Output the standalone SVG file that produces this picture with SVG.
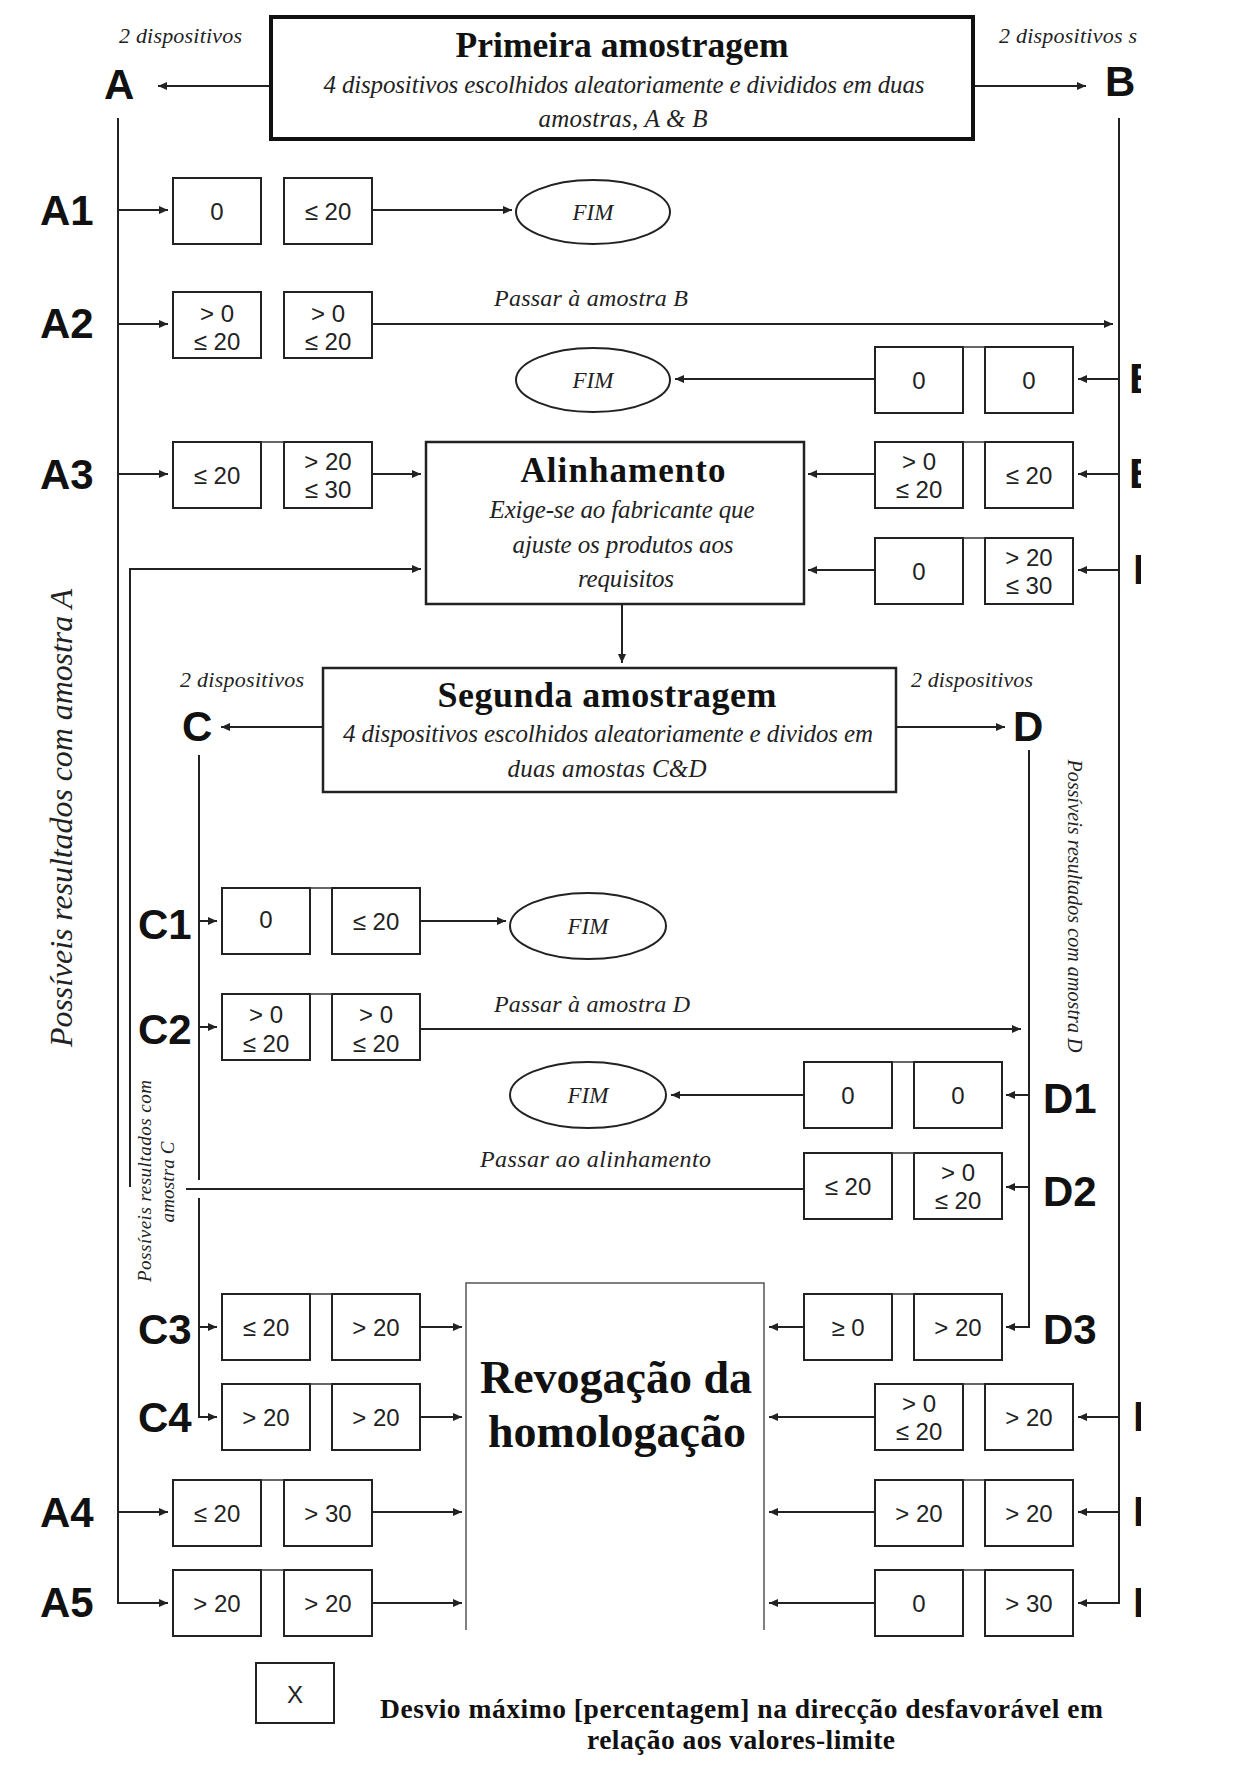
<svg xmlns="http://www.w3.org/2000/svg" width="1249" height="1776" viewBox="0 0 1249 1776">
<style>
.bx{fill:#fff;stroke:#222;stroke-width:2}
.br{fill:none;stroke:#333;stroke-width:1.5}
.bt{font-family:"Liberation Sans",Arial,sans-serif;font-size:24px;fill:#222;text-anchor:middle}
.lb{font-family:"Liberation Sans",Arial,sans-serif;font-weight:bold;font-size:42px;fill:#111}
.it{font-family:"Liberation Serif","Times New Roman",serif;font-style:italic;fill:#222}
.ttl{font-family:"Liberation Serif","Times New Roman",serif;font-weight:bold;fill:#111;text-anchor:middle}
.c{fill:none;stroke:#222;stroke-width:2}
.ca{fill:none;stroke:#222;stroke-width:2;marker-end:url(#ah)}
.el{fill:#fff;stroke:#222;stroke-width:2}
.mid{text-anchor:middle}
</style>
<defs>
<marker id="ah" markerUnits="userSpaceOnUse" markerWidth="10" markerHeight="8" refX="9" refY="4" orient="auto">
<path d="M0,0 L9,4 L0,8 Z" fill="#222"/>
</marker>
<clipPath id="clipR"><rect x="0" y="0" width="1141" height="1776"/></clipPath>
</defs>
<rect width="1249" height="1776" fill="#fff"/>

<g id="connectors">
<path class="ca" d="M269,86 H158"/>
<path class="ca" d="M975,86 H1086"/>
<path class="ca" d="M118,118 V1603 H168"/>
<path class="ca" d="M118,210 H168"/>
<path class="ca" d="M118,324 H168"/>
<path class="ca" d="M118,474 H168"/>
<path class="ca" d="M118,1512 H168"/>
<path class="ca" d="M373,210 H512"/>
<path class="ca" d="M373,324 H1113"/>
<path class="ca" d="M1119,118 V1603 H1078"/>
<path class="ca" d="M1119,379 H1078"/>
<path class="ca" d="M1119,474 H1078"/>
<path class="ca" d="M1119,570 H1078"/>
<path class="ca" d="M1119,1417 H1078"/>
<path class="ca" d="M1119,1512 H1078"/>
<path class="ca" d="M874,379 H675"/>
<path class="ca" d="M874,474 H808"/>
<path class="ca" d="M874,570 H808"/>
<path class="ca" d="M373,474 H421"/>
<path class="ca" d="M130,1187 V569 H421"/>
<path class="ca" d="M622,604 V663"/>
<path class="ca" d="M322,727 H221"/>
<path class="ca" d="M897,727 H1005"/>
<path class="c" d="M199,755 V1180"/>
<path class="ca" d="M199,1198 V1417 H217"/>
<path class="ca" d="M199,921 H217"/>
<path class="ca" d="M199,1027 H217"/>
<path class="ca" d="M199,1327 H217"/>
<path class="ca" d="M421,921 H506"/>
<path class="ca" d="M421,1029 H1021"/>
<path class="ca" d="M1029,750 V1327 H1006"/>
<path class="ca" d="M1029,1095 H1006"/>
<path class="ca" d="M1029,1187 H1006"/>
<path class="ca" d="M803,1095 H671"/>
<path class="c" d="M803,1189 H186"/>
<path class="ca" d="M421,1327 H462"/>
<path class="ca" d="M421,1417 H462"/>
<path class="ca" d="M373,1512 H462"/>
<path class="ca" d="M373,1603 H462"/>
<path class="ca" d="M803,1327 H769"/>
<path class="ca" d="M874,1417 H769"/>
<path class="ca" d="M874,1512 H769"/>
<path class="ca" d="M874,1603 H769"/>
<text class="it" x="494" y="306" font-size="24" textLength="194">Passar à amostra B</text>
<text class="it" x="494" y="1012" font-size="24" textLength="196">Passar à amostra D</text>
<text class="it" x="480" y="1167" font-size="24" textLength="231">Passar ao alinhamento</text>
</g>

<g id="primeira">
<rect x="271" y="17" width="702" height="122" fill="#fff" stroke="#111" stroke-width="4"/>
<text class="ttl" x="622" y="57" font-size="35.5" textLength="333">Primeira amostragem</text>
<text class="it mid" x="624" y="93" font-size="25" textLength="601">4 dispositivos escolhidos aleatoriamente e divididos em duas</text>
<text class="it mid" x="623" y="127" font-size="25" textLength="169">amostras, A &amp; B</text>
</g>

<g id="labelA">
<text class="it" x="119" y="43" font-size="22" textLength="123">2 dispositivos</text>
<text class="lb" x="104" y="99" font-size="50">A</text>
</g>
<g id="labelB" clip-path="url(#clipR)">
<text class="it" x="999" y="43" font-size="22" textLength="138">2 dispositivos s</text>
<text class="lb" x="1105" y="96" font-size="50">B</text>
</g>

<g id="rowlabels">
<text class="lb" x="40" y="225">A1</text>
<text class="lb" x="40" y="338">A2</text>
<text class="lb" x="40" y="489">A3</text>
<text class="lb" x="40" y="1527">A4</text>
<text class="lb" x="40" y="1617">A5</text>
<text class="lb" x="138" y="939" font-size="40">C1</text>
<text class="lb" x="138" y="1044" font-size="40">C2</text>
<text class="lb" x="138" y="1344" font-size="40">C3</text>
<text class="lb" x="138" y="1432" font-size="40">C4</text>
<text class="lb" x="1043" y="1113" font-size="40">D1</text>
<text class="lb" x="1043" y="1206" font-size="40">D2</text>
<text class="lb" x="1043" y="1344" font-size="40">D3</text>
<g clip-path="url(#clipR)">
<text class="lb" x="1129" y="393">B1</text>
<text class="lb" x="1129" y="488">B2</text>
<text class="lb" x="1133" y="584">B3</text>
<text class="lb" x="1133" y="1431">B4</text>
<text class="lb" x="1133" y="1526">B5</text>
<text class="lb" x="1133" y="1617">B6</text>
</g>
</g>

<g id="sideTexts">
<text class="it mid" transform="translate(72,818) rotate(-90)" font-size="32" textLength="458">Possíveis resultados com amostra A</text>
<text class="it mid" transform="translate(151,1181) rotate(-90)" font-size="19" textLength="202">Possíveis resultados com</text>
<text class="it mid" transform="translate(174,1182) rotate(-90)" font-size="19" textLength="81">amostra C</text>
<text class="it mid" transform="translate(1068,906) rotate(90)" font-size="20" textLength="293">Possíveis resultados com amostra D</text>
</g>

<g id="A1">
<rect class="bx" x="173" y="178" width="88" height="66"/><rect class="bx" x="284" y="178" width="88" height="66"/>
<text class="bt" x="217" y="220">0</text><text class="bt" x="328" y="220">≤ 20</text>
</g>
<g id="A2">
<rect class="bx" x="173" y="292" width="88" height="66"/><rect class="bx" x="284" y="292" width="88" height="66"/>
<text class="bt" x="217" y="322">&gt; 0</text><text class="bt" x="217" y="350">≤ 20</text>
<text class="bt" x="328" y="322">&gt; 0</text><text class="bt" x="328" y="350">≤ 20</text>
</g>
<g id="A3">
<rect class="bx" x="173" y="442" width="88" height="66"/><rect class="bx" x="284" y="442" width="88" height="66"/>
<path class="br" d="M261,442 H284"/>
<text class="bt" x="217" y="484">≤ 20</text>
<text class="bt" x="328" y="470">&gt; 20</text><text class="bt" x="328" y="498">≤ 30</text>
</g>
<g id="A4">
<rect class="bx" x="173" y="1480" width="88" height="66"/><rect class="bx" x="284" y="1480" width="88" height="66"/>
<path class="br" d="M261,1480 H284"/>
<text class="bt" x="217" y="1522">≤ 20</text><text class="bt" x="328" y="1522">&gt; 30</text>
</g>
<g id="A5">
<rect class="bx" x="173" y="1570" width="88" height="66"/><rect class="bx" x="284" y="1570" width="88" height="66"/>
<path class="br" d="M261,1570 H284"/>
<text class="bt" x="217" y="1612">&gt; 20</text><text class="bt" x="328" y="1612">&gt; 20</text>
</g>

<g id="B1">
<rect class="bx" x="875" y="347" width="88" height="66"/><rect class="bx" x="985" y="347" width="88" height="66"/>
<path class="br" d="M963,347 H985"/>
<text class="bt" x="919" y="389">0</text><text class="bt" x="1029" y="389">0</text>
</g>
<g id="B2">
<rect class="bx" x="875" y="442" width="88" height="66"/><rect class="bx" x="985" y="442" width="88" height="66"/>
<path class="br" d="M963,442 H985"/>
<text class="bt" x="919" y="470">&gt; 0</text><text class="bt" x="919" y="498">≤ 20</text>
<text class="bt" x="1029" y="484">≤ 20</text>
</g>
<g id="B3">
<rect class="bx" x="875" y="538" width="88" height="66"/><rect class="bx" x="985" y="538" width="88" height="66"/>
<path class="br" d="M963,538 H985"/>
<text class="bt" x="919" y="580">0</text>
<text class="bt" x="1029" y="566">&gt; 20</text><text class="bt" x="1029" y="594">≤ 30</text>
</g>
<g id="B4">
<rect class="bx" x="875" y="1384" width="88" height="66"/><rect class="bx" x="985" y="1384" width="88" height="66"/>
<path class="br" d="M963,1384 H985"/>
<text class="bt" x="919" y="1412">&gt; 0</text><text class="bt" x="919" y="1440">≤ 20</text>
<text class="bt" x="1029" y="1426">&gt; 20</text>
</g>
<g id="B5">
<rect class="bx" x="875" y="1480" width="88" height="66"/><rect class="bx" x="985" y="1480" width="88" height="66"/>
<path class="br" d="M963,1480 H985"/>
<text class="bt" x="919" y="1522">&gt; 20</text><text class="bt" x="1029" y="1522">&gt; 20</text>
</g>
<g id="B6">
<rect class="bx" x="875" y="1570" width="88" height="66"/><rect class="bx" x="985" y="1570" width="88" height="66"/>
<path class="br" d="M963,1570 H985"/>
<text class="bt" x="919" y="1612">0</text><text class="bt" x="1029" y="1612">&gt; 30</text>
</g>

<g id="C1">
<rect class="bx" x="222" y="888" width="88" height="66"/><rect class="bx" x="332" y="888" width="88" height="66"/>
<path class="br" d="M310,888 H332"/>
<text class="bt" x="266" y="928">0</text><text class="bt" x="376" y="930">≤ 20</text>
</g>
<g id="C2">
<rect class="bx" x="222" y="994" width="88" height="66"/><rect class="bx" x="332" y="994" width="88" height="66"/>
<path class="br" d="M310,994 H332" stroke="#999"/>
<text class="bt" x="266" y="1023">&gt; 0</text><text class="bt" x="266" y="1052">≤ 20</text>
<text class="bt" x="376" y="1023">&gt; 0</text><text class="bt" x="376" y="1052">≤ 20</text>
</g>
<g id="C3">
<rect class="bx" x="222" y="1294" width="88" height="66"/><rect class="bx" x="332" y="1294" width="88" height="66"/>
<path class="br" d="M310,1294 H332"/>
<text class="bt" x="266" y="1336">≤ 20</text><text class="bt" x="376" y="1336">&gt; 20</text>
</g>
<g id="C4">
<rect class="bx" x="222" y="1384" width="88" height="66"/><rect class="bx" x="332" y="1384" width="88" height="66"/>
<path class="br" d="M310,1384 H332"/>
<text class="bt" x="266" y="1426">&gt; 20</text><text class="bt" x="376" y="1426">&gt; 20</text>
</g>

<g id="D1">
<rect class="bx" x="804" y="1062" width="88" height="66"/><rect class="bx" x="914" y="1062" width="88" height="66"/>
<path class="br" d="M892,1062 H914"/>
<text class="bt" x="848" y="1104">0</text><text class="bt" x="958" y="1104">0</text>
</g>
<g id="D2">
<rect class="bx" x="804" y="1153" width="88" height="66"/><rect class="bx" x="914" y="1153" width="88" height="66"/>
<path class="br" d="M892,1153 H914"/>
<text class="bt" x="848" y="1195">≤ 20</text>
<text class="bt" x="958" y="1181">&gt; 0</text><text class="bt" x="958" y="1209">≤ 20</text>
</g>
<g id="D3">
<rect class="bx" x="804" y="1294" width="88" height="66"/><rect class="bx" x="914" y="1294" width="88" height="66"/>
<path class="br" d="M892,1294 H914"/>
<text class="bt" x="848" y="1336">≥ 0</text><text class="bt" x="958" y="1336">&gt; 20</text>
</g>

<g id="fimA1"><ellipse class="el" cx="593" cy="212" rx="77" ry="32"/><text class="it mid" x="593" y="220" font-size="23">FIM</text></g>
<g id="fimB1"><ellipse class="el" cx="593" cy="380" rx="77" ry="32"/><text class="it mid" x="593" y="388" font-size="23">FIM</text></g>
<g id="fimC1"><ellipse class="el" cx="588" cy="926" rx="78" ry="33"/><text class="it mid" x="588" y="934" font-size="23">FIM</text></g>
<g id="fimD1"><ellipse class="el" cx="588" cy="1095" rx="78" ry="33"/><text class="it mid" x="588" y="1103" font-size="23">FIM</text></g>

<g id="alinhamento">
<rect x="426" y="442" width="378" height="162" fill="#fff" stroke="#222" stroke-width="2.5"/>
<text class="ttl" x="623" y="482" font-size="35" textLength="205">Alinhamento</text>
<text class="it mid" x="622" y="518" font-size="25" textLength="265">Exige-se ao fabricante que</text>
<text class="it mid" x="623" y="553" font-size="25" textLength="221">ajuste os produtos aos</text>
<text class="it mid" x="626" y="587" font-size="25" textLength="96">requisitos</text>
</g>

<g id="segunda">
<rect x="323" y="668" width="573" height="124" fill="#fff" stroke="#222" stroke-width="2.5"/>
<text class="ttl" x="607" y="707" font-size="36" textLength="339">Segunda amostragem</text>
<text class="it mid" x="608" y="742" font-size="25" textLength="530">4 dispositivos escolhidos aleatoriamente e dividos em</text>
<text class="it mid" x="607" y="777" font-size="25" textLength="199">duas amostas C&amp;D</text>
</g>

<g id="labelC">
<text class="it" x="180" y="687" font-size="22" textLength="124">2 dispositivos</text>
<text class="lb" x="182" y="741" font-size="44">C</text>
</g>
<g id="labelD">
<text class="it" x="911" y="687" font-size="22" textLength="122">2 dispositivos</text>
<text class="lb" x="1013" y="741" font-size="44">D</text>
</g>

<g id="revogacao">
<path d="M466,1630 V1283 H764 V1630" fill="none" stroke="#555" stroke-width="1.5"/>
<text class="ttl" x="616" y="1393" font-size="46">Revogação da</text>
<text class="ttl" x="617" y="1447" font-size="46">homologação</text>
</g>

<g id="legend">
<rect x="256" y="1663" width="78" height="60" fill="#fff" stroke="#222" stroke-width="2"/>
<text class="bt" x="295" y="1703" font-size="25">X</text>
<text class="ttl" x="380" y="1718" font-size="27.5" style="text-anchor:start" textLength="723">Desvio máximo [percentagem] na direcção desfavorável em</text>
<text class="ttl" x="587" y="1749" font-size="27.5" style="text-anchor:start" textLength="308">relação aos valores-limite</text>
</g>
</svg>
